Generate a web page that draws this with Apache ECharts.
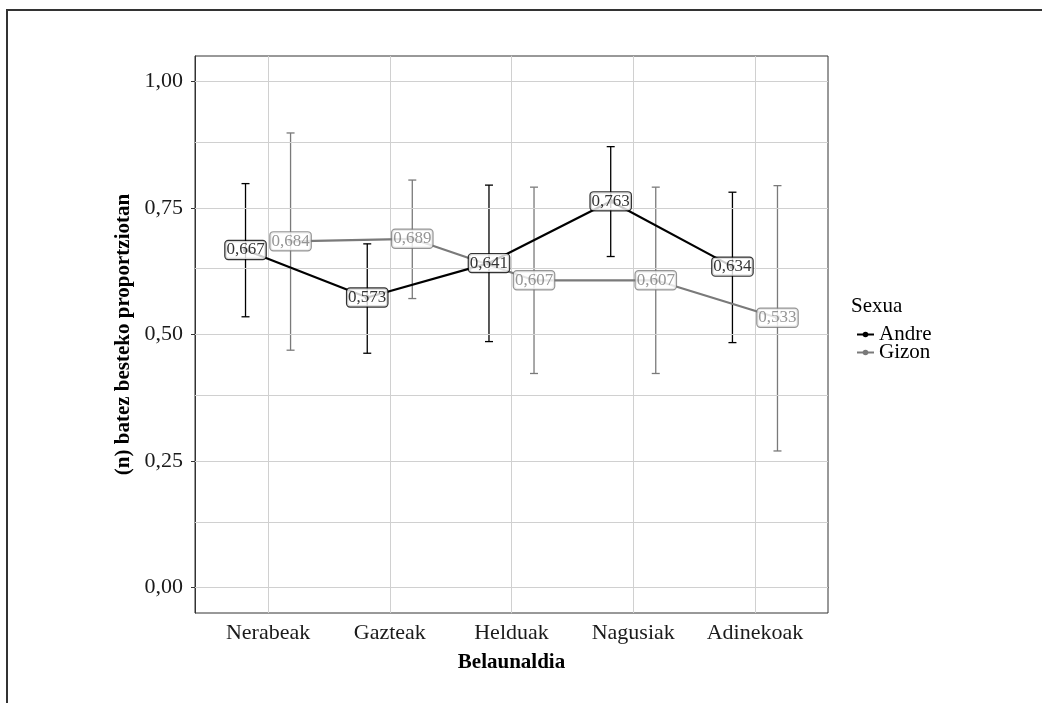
<!DOCTYPE html>
<html>
<head>
<meta charset="utf-8">
<script src="https://cdn.jsdelivr.net/npm/echarts@6/dist/echarts.min.js"></script>
<style>
html,body{margin:0;padding:0;background:#fff;}
#chart{width:1042px;height:703px;}
</style>
</head>
<body>
<div id="chart"></div>
<script>
var categories = ['Nerabeak', 'Gazteak', 'Helduak', 'Nagusiak', 'Adinekoak'];
var seriesNames = ['Andre', 'Gizon'];
var andreMean = [0.667, 0.573, 0.641, 0.763, 0.634];
var andreLow  = [0.535, 0.463, 0.486, 0.654, 0.484];
var andreHigh = [0.798, 0.679, 0.795, 0.871, 0.781];
var gizonMean = [0.684, 0.689, 0.607, 0.607, 0.533];
var gizonLow  = [0.469, 0.571, 0.423, 0.423, 0.270];
var gizonHigh = [0.898, 0.805, 0.791, 0.791, 0.794];
var yTicks = [0, 0.25, 0.5, 0.75, 1];
var yMinorGrid = [0.125, 0.375, 0.625, 0.875];

var FONT = '"Liberation Serif", "DejaVu Serif", serif';
var DODGE = 0.185;
var colors = ['#000000', '#7a7a7a'];
var fmt = function (v) { return v.toFixed(3).replace('.', ','); };

function pts(means, off) {
  return means.map(function (v, i) { return [i + 1 + off, v]; });
}
function bars(lo, hi, off) {
  return lo.map(function (v, i) { return [i + 1 + off, v, hi[i]]; });
}

var gridLines = [];
yTicks.concat(yMinorGrid).forEach(function (v) { gridLines.push({ yAxis: v }); });
categories.forEach(function (c, i) { gridLines.push({ xAxis: i + 1 }); });

function errRender(color) {
  return function (params, api) {
    var x = api.value(0);
    var lo = api.coord([x, api.value(1)]);
    var hi = api.coord([x, api.value(2)]);
    var cap = 4;
    var st = { stroke: color, lineWidth: 1.3 };
    return {
      type: 'group',
      children: [
        { type: 'line', shape: { x1: lo[0], y1: lo[1], x2: hi[0], y2: hi[1] }, style: st },
        { type: 'line', shape: { x1: lo[0] - cap, y1: lo[1], x2: lo[0] + cap, y2: lo[1] }, style: st },
        { type: 'line', shape: { x1: hi[0] - cap, y1: hi[1], x2: hi[0] + cap, y2: hi[1] }, style: st }
      ]
    };
  };
}

function labelSeries(means, off, color, name) {
  return {
    type: 'scatter',
    name: name + '_lbl',
    data: pts(means, off),
    symbolSize: 1,
    itemStyle: { color: 'rgba(0,0,0,0)' },
    z: 10 + (name === 'Andre' ? 0 : 1),
    silent: true,
    label: {
      show: true,
      position: 'inside',
      formatter: function (p) { return fmt(p.value[1]); },
      fontFamily: FONT,
      fontSize: 17,
      color: color,
      backgroundColor: '#ffffff',
      borderColor: color,
      borderWidth: 1.2,
      borderRadius: 3,
      padding: [1, 1, 0, 1]
    }
  };
}

var chart = echarts.init(document.getElementById('chart'), null, { renderer: 'canvas' });
chart.setOption({
  animation: false,
  backgroundColor: '#ffffff',
  textStyle: { fontFamily: FONT },
  grid: {
    left: 195, right: 214, top: 56, bottom: 90,
    show: true, borderColor: '#333333', borderWidth: 1, backgroundColor: '#ffffff'
  },
  legend: {
    orient: 'vertical',
    left: 851, top: 319,
    itemWidth: 17, itemHeight: 7, itemGap: -3,
    data: seriesNames,
    textStyle: { fontFamily: FONT, fontSize: 21, color: '#000' }
  },
  graphic: [
    { type: 'text', left: 851, top: 296, style: { text: 'Sexua', font: '21px ' + FONT, fill: '#000' } },
    { type: 'line', shape: { x1: 7, y1: 10, x2: 7, y2: 703 }, style: { stroke: '#333', lineWidth: 2 } },
    { type: 'line', shape: { x1: 6, y1: 10, x2: 1042, y2: 10 }, style: { stroke: '#333', lineWidth: 2 } }
  ],
  xAxis: {
    type: 'value', min: 0.4, max: 5.6,
    name: 'Belaunaldia', nameLocation: 'middle', nameGap: 39,
    nameTextStyle: { fontFamily: FONT, fontSize: 21, fontWeight: 'bold', color: '#000' },
    axisLine: { show: true, lineStyle: { color: '#333', width: 1 } },
    axisTick: { show: true, length: 4, customValues: [1, 2, 3, 4, 5], lineStyle: { color: '#333' } },
    axisLabel: {
      customValues: [1, 2, 3, 4, 5], margin: 9,
      formatter: function (v) { return categories[Math.round(v) - 1] || ''; },
      fontFamily: FONT, fontSize: 22, color: '#1a1a1a'
    },
    splitLine: { show: false }
  },
  yAxis: {
    type: 'value', min: -0.05, max: 1.05,
    name: '(n) batez besteko proportziotan', nameLocation: 'middle', nameGap: 59,
    nameTextStyle: { fontFamily: FONT, fontSize: 21, fontWeight: 'bold', color: '#000' },
    axisLine: { show: true, lineStyle: { color: '#333', width: 1 } },
    axisTick: { show: true, length: 4, customValues: yTicks, lineStyle: { color: '#333' } },
    axisLabel: {
      customValues: yTicks, margin: 12,
      formatter: function (v) { return v.toFixed(2).replace('.', ','); },
      fontFamily: FONT, fontSize: 22, color: '#1a1a1a'
    },
    splitLine: { show: false }
  },
  series: [
    {
      type: 'line', name: 'grid', data: [], silent: true, z: 0,
      markLine: {
        silent: true, symbol: 'none', animation: false,
        label: { show: false },
        lineStyle: { color: '#d0d0d0', width: 1, type: 'solid' },
        data: gridLines
      }
    },
    { type: 'custom', name: 'Andre_err', data: bars(andreLow, andreHigh, -DODGE), renderItem: errRender(colors[0]), z: 3, silent: true },
    { type: 'custom', name: 'Gizon_err', data: bars(gizonLow, gizonHigh, DODGE), renderItem: errRender(colors[1]), z: 3, silent: true },
    {
      type: 'line', name: 'Andre', data: pts(andreMean, -DODGE), z: 5,
      symbol: 'circle', symbolSize: 5, showSymbol: true,
      itemStyle: { color: colors[0] }, lineStyle: { color: colors[0], width: 2.2 }
    },
    {
      type: 'line', name: 'Gizon', data: pts(gizonMean, DODGE), z: 5,
      symbol: 'circle', symbolSize: 5, showSymbol: true,
      itemStyle: { color: colors[1] }, lineStyle: { color: colors[1], width: 2.2 }
    },
    labelSeries(andreMean, -DODGE, colors[0], 'Andre'),
    labelSeries(gizonMean, DODGE, colors[1], 'Gizon')
  ]
});
</script>
</body>
</html>
